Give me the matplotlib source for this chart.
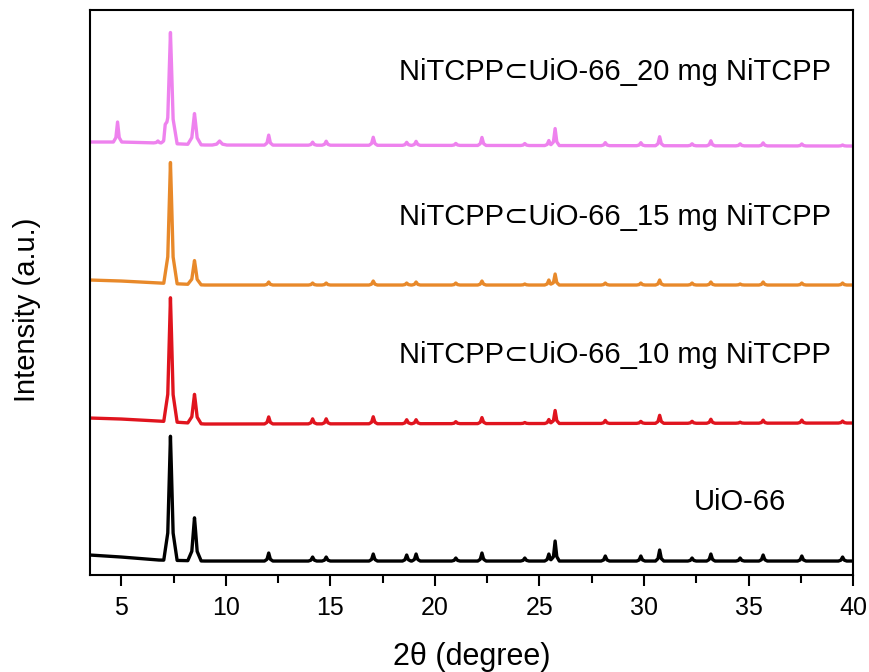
import numpy as np
import matplotlib
matplotlib.use("Agg")
import matplotlib.pyplot as plt
from matplotlib.ticker import MultipleLocator

plt.rcParams["font.family"] = ["Liberation Sans", "DejaVu Sans"]

# peak positions (2theta, degree) shared by all patterns
two_theta = [4.82, 6.75, 7.1, 7.35, 8.5, 9.7, 12.05, 14.15, 14.8, 17.05,
             18.65, 19.1, 21.0, 22.25, 24.3, 25.45, 25.75, 28.15, 29.85,
             30.75, 32.3, 33.2, 34.6, 35.7, 37.55, 39.5]

# peak heights above the baseline (a.u.), one list per sample
h_uio66 = [0, 0, 0, 124, 43, 0, 8, 4, 4, 7, 6, 7, 3, 8, 3, 7, 20, 5, 5,
           11, 3, 7, 3, 6, 5, 4]
h_10mg = [0, 0, 0, 124, 29, 0, 7, 5, 5, 7, 4, 4, 2, 6, 1, 4, 13, 3, 2,
          8, 2, 4, 1, 3, 3, 2]
h_15mg = [0, 0, 0, 121, 24, 0, 3, 2, 2, 4, 2, 3, 2, 4, 1, 5, 11, 2, 2,
          5, 2, 3, 1, 3, 2, 2]
h_20mg = [20, 2, 10, 111, 31, 4, 10, 3, 4, 8, 3, 4, 2, 8, 2, 5, 17, 3, 3,
          9, 2, 5, 2, 3, 2, 1]

# baselines (already stacked), anchor points
base_x = [3.5, 5.0, 6.8, 9.0, 40.0]
base_uio66 = [20, 18, 15, 14, 14]
base_10mg = [157, 156, 154, 151, 152]
base_15mg = [295, 294, 292, 290, 290]
base_20mg = [433, 433, 432, 430, 429]

labels = ["UiO-66",
          "NiTCPP\u2282UiO-66_10 mg NiTCPP",
          "NiTCPP\u2282UiO-66_15 mg NiTCPP",
          "NiTCPP\u2282UiO-66_20 mg NiTCPP"]
colors = ["#000000", "#E0141E", "#E8892A", "#EE82EE"]

# peak outline, in units of the half width
shape_d = np.array([-1, -0.4, -0.15, 0, 0.15, 0.4, 1])
shape_f = np.array([0, 0.22, 0.72, 1, 0.72, 0.22, 0])


def half_width(p, h):
    if p == 9.7:
        return 0.35
    return 0.32 if h > 20 else 0.2


def pattern(heights, base_y):
    xs = list(base_x)
    for p, h in zip(two_theta, heights):
        if h > 0:
            xs += list(p + shape_d * half_width(p, h))
    xs = np.unique(np.array(xs))
    ys = np.interp(xs, base_x, base_y)
    for p, h in zip(two_theta, heights):
        if h > 0:
            hw = half_width(p, h)
            ys = ys + np.interp(xs, p + shape_d * hw, h * shape_f,
                                left=0, right=0)
    return xs, ys


fig = plt.figure(figsize=(8.7, 6.72), dpi=100)
ax = fig.add_axes([0.1034, 0.1443, 0.8771, 0.8408])

series = [(h_uio66, base_uio66), (h_10mg, base_10mg),
          (h_15mg, base_15mg), (h_20mg, base_20mg)]
for (hs, bs), c in zip(series, colors):
    x, y = pattern(hs, bs)
    ax.plot(x, y, color=c, lw=2.4, solid_joinstyle="round")

text_pos = [(34.6, 73), (28.6, 220), (28.6, 358), (28.6, 503)]
for lab, (tx, ty) in zip(labels, text_pos):
    ax.text(tx, ty, lab, fontsize=21, ha="center", va="center")

ax.set_xlim(3.5, 40)
ax.set_ylim(0, 565)
ax.xaxis.set_major_locator(MultipleLocator(5))
ax.xaxis.set_minor_locator(MultipleLocator(2.5))
ax.tick_params(axis="x", which="major", direction="out", length=8,
               width=1.5, labelsize=18, pad=7)
ax.tick_params(axis="x", which="minor", direction="out", length=6,
               width=1.5)
ax.set_yticks([])
for s in ax.spines.values():
    s.set_linewidth(1.5)

ax.set_xlabel("2\u03b8 (degree)", fontsize=22, labelpad=16)
ax.set_ylabel("Intensity (a.u.)", fontsize=21)
ax.yaxis.set_label_coords(-0.064, 0.47)

fig.savefig("out.png", dpi=100)
